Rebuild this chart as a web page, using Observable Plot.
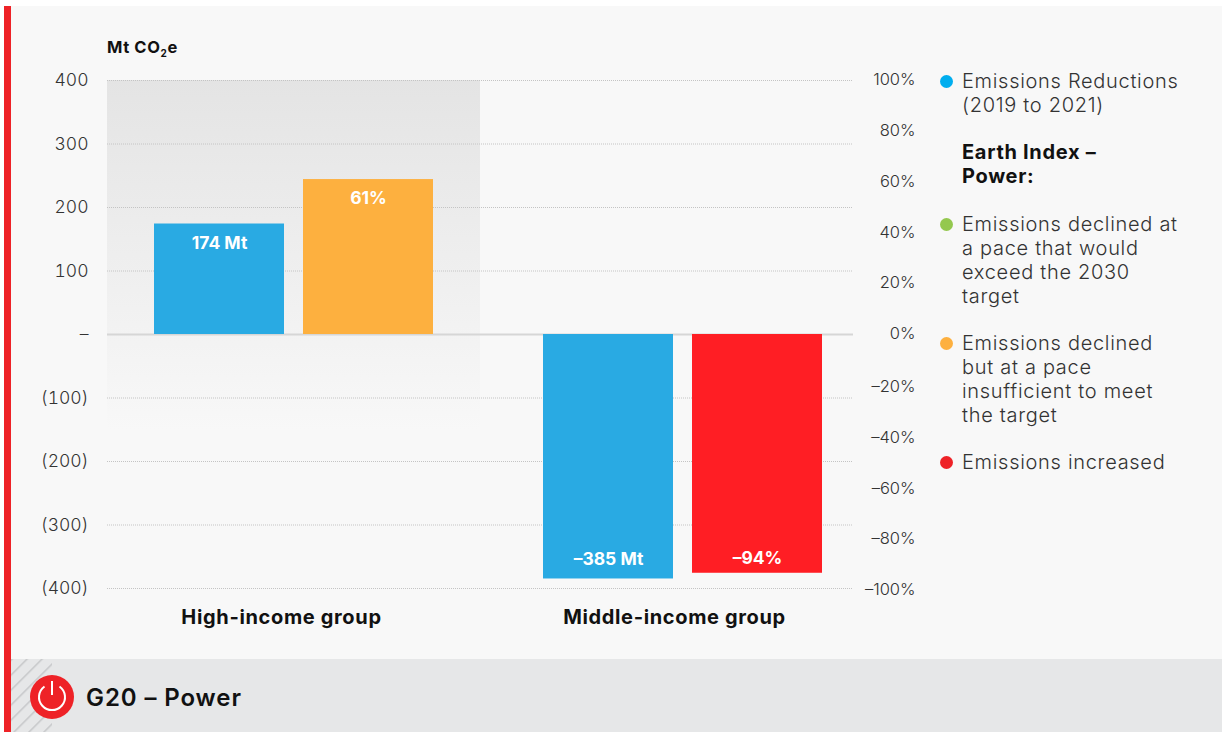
<!DOCTYPE html>
<html>
<head>
<meta charset="utf-8">
<script src="https://cdn.jsdelivr.net/npm/d3@7"></script>
<script src="https://cdn.jsdelivr.net/npm/@observablehq/plot@0.6"></script>
<style>
  html, body { margin: 0; padding: 0; background: #fff; }
  body { font-family: Inter, "Open Sans", sans-serif; color: #1a1a1a; }
  #page { position: relative; width: 1222px; height: 732px; overflow: hidden; background: #fff; }
  #panel { position: absolute; left: 4px; top: 6px; right: 0; bottom: 0; background: #f8f8f8; border-left: 7px solid #ee2227; }
  #chart { position: absolute; left: 0; top: 0; }
  #chart .group-label text { letter-spacing: 0.65px; }
  #unit { position: absolute; left: 107px; top: 38px; font-size: 16.5px; font-weight: 700; color: #111; line-height: 18px; letter-spacing: 0.6px; }
  #unit sub { font-size: 10px; line-height: 0; }
  #legend { position: absolute; left: 940px; top: 0; width: 282px; font-size: 20px; line-height: 24px; font-weight: 300; color: #333; letter-spacing: 0.7px; }
  #legend div { position: absolute; left: 22px; width: 250px; white-space: pre; }
  #legend div.head { font-weight: 700; color: #111; }
  #legend i { position: absolute; left: -22px; top: 6px; width: 13px; height: 13px; border-radius: 50%; }
  #footer { position: absolute; left: 11px; right: 0; top: 659px; height: 73px; background: #e6e7e8; }
  #footer svg { position: absolute; left: 0; top: 0; }
  #footer span { position: absolute; left: 75px; top: 24px; font-size: 24px; line-height: 30px; font-weight: 600; color: #111; letter-spacing: 0.9px; }
</style>
</head>
<body>
<div id="page">
  <div id="panel"></div>
  <div id="chart"></div>
  <div id="unit">Mt CO<sub>2</sub>e</div>
  <div id="legend"></div>
  <div id="footer">
    <svg width="120" height="73" viewBox="0 0 120 73">
      <defs>
        <pattern id="hatch" width="10.6" height="10.6" patternUnits="userSpaceOnUse" patternTransform="rotate(45)">
          <rect x="0" y="0" width="1.5" height="10.6" fill="#c6c7c9"></rect>
        </pattern>
      </defs>
      <rect x="0" y="0" width="41" height="73" fill="url(#hatch)"></rect>
      <circle cx="41" cy="38" r="22" fill="#ee2227"></circle>
      <path d="M 33.5 27.5 A 13 13 0 1 0 48.5 27.5" fill="none" stroke="#fff" stroke-width="2"></path>
      <line x1="41" y1="22" x2="41" y2="36" stroke="#fff" stroke-width="2"></line>
    </svg>
    <span>G20 – Power</span>
  </div>
</div>
<script>
// Income groups and the two bars drawn for each
const groups = ["High-income group", "Middle-income group"];
const reductionsMt = [174, -385];
const earthIndexPct = [61, -94];
const earthIndexStatus = ["declined", "increased"];

// Tick values for the two vertical axes
const mtTicks = [400, 300, 200, 100, 0, -100, -200, -300, -400];
const pctTicks = [100, 80, 60, 40, 20, 0, -20, -40, -60, -80, -100];

// Legend wording
const legendItems = [
  {text: "Emissions Reductions\n(2019 to 2021)", color: "#00aeef", top: 69},
  {text: "Earth Index –\nPower:", head: true, top: 140},
  {text: "Emissions declined at\na pace that would\nexceed the 2030\ntarget", color: "#94c84f", top: 212},
  {text: "Emissions declined\nbut at a pace\ninsufficient to meet\nthe target", color: "#fdb03f", top: 331},
  {text: "Emissions increased", color: "#ee2227", top: 450}
];

const colors = {reductions: "#29aae3", declined: "#fdb03f", increased: "#ff1e24"};

// One percent point of the right axis spans the same height as four Mt on the left
const mtPerPct = 4;

// Horizontal layout in units of one bar step; the second group sits further along
const barWidth = 130 / 149;
const groupOffset = [0, 2 + 91 / 149];

const bars = groups.flatMap((group, i) => [
  {group, slot: groupOffset[i], value: reductionsMt[i], fill: colors.reductions,
   label: `${reductionsMt[i] < 0 ? "–" : ""}${Math.abs(reductionsMt[i])} Mt`},
  {group, slot: groupOffset[i] + 1, value: earthIndexPct[i] * mtPerPct, fill: colors[earthIndexStatus[i]],
   label: `${earthIndexPct[i] < 0 ? "–" : ""}${Math.abs(earthIndexPct[i])}%`}
]);

// Distance of each value label from the end of its bar, in bar order
const labelInset = [19, 19, -20, -15];

const formatMt = v => v === 0 ? "–" : v < 0 ? `(${-v})` : `${v}`;
const formatPct = p => p < 0 ? `–${-p}%` : `${p}%`;

// Soft grey wash behind the high-income group
const wash = () => {
  const svg = d3.create("svg:defs");
  const g = svg.append("linearGradient").attr("id", "wash").attr("x1", 0).attr("x2", 0).attr("y1", 0).attr("y2", 1);
  g.append("stop").attr("offset", "0%").attr("stop-color", "#e4e4e4");
  g.append("stop").attr("offset", "100%").attr("stop-color", "#f8f8f8");
  return svg.node();
};

const xLeft = -47 / 149;
const xRight = xLeft + 746 / 149;
const groupCentre = [(281 - 154) / 149, (674 - 154) / 149];

const pctLabels = (data, dy) => Plot.text(data, {
  y: d => d * mtPerPct,
  text: formatPct,
  frameAnchor: "right",
  textAnchor: "end",
  dx: 62,
  dy,
  fontSize: 16.5,
  fontWeight: 300,
  fill: "#333"
});

const chart = Plot.plot({
  width: 1222,
  height: 659,
  marginLeft: 107,
  marginRight: 369,
  marginTop: 80,
  marginBottom: 71,
  style: {background: "transparent", fontFamily: "Inter, 'Open Sans', sans-serif", overflow: "visible"},
  x: {type: "linear", domain: [xLeft, xRight], axis: null},
  y: {domain: [-400, 400], axis: null},
  marks: [
    wash,
    Plot.rect([0], {
      x1: xLeft,
      x2: (xLeft + xRight) / 2,
      y1: 400,
      y2: -152,
      fill: "url(#wash)"
    }),
    Plot.ruleY(mtTicks.filter(d => d !== 0), {stroke: "#c4c4c4", strokeWidth: 1, strokeDasharray: "1 1"}),
    Plot.ruleY([0], {stroke: "#d6d6d6", strokeWidth: 2}),
    Plot.rectY(bars, {
      x1: d => d.slot,
      x2: d => d.slot + barWidth,
      y1: 0,
      y2: "value",
      fill: "fill"
    }),
    ...bars.map((bar, i) => Plot.text([bar], {
      x: d => d.slot + barWidth / 2,
      y: "value",
      text: "label",
      dy: labelInset[i],
      fill: "#fff",
      fontWeight: 700,
      fontSize: 17.5
    })),
    Plot.axisY({
      ticks: mtTicks,
      tickFormat: formatMt,
      tickSize: 0,
      tickPadding: 19,
      label: null,
      fontSize: 17.5,
      fontWeight: 300,
      color: "#333"
    }),
    pctLabels(pctTicks.filter(d => d >= 0), -0.5),
    pctLabels(pctTicks.filter(d => d < 0), 1.5),
    Plot.text(groups, {
      x: (d, i) => groupCentre[i],
      y: -400,
      text: d => d,
      dy: 29,
      fontSize: 20,
      fontWeight: 700,
      fill: "#111",
      className: "group-label"
    })
  ]
});
document.getElementById("chart").append(chart);

// Legend column on the right
const legend = d3.select("#legend");
legendItems.forEach(item => {
  const row = legend.append("div").style("top", `${item.top}px`).text(item.text);
  if (item.head) row.classed("head", true);
  if (item.color) row.append("i").style("background", item.color);
});
</script>
</body>
</html>
